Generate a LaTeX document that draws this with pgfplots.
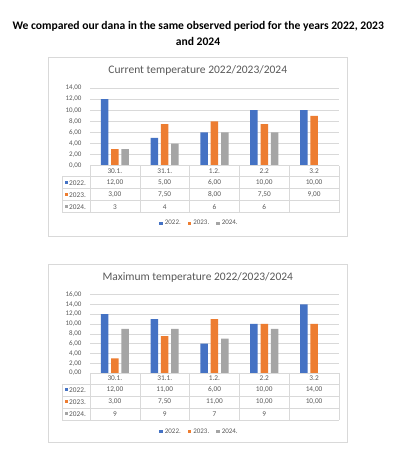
\documentclass[border=0pt]{standalone}
\usepackage{pgfplots}
\pgfplotsset{compat=1.18}
\usepackage{pgfplotstable}
\usepackage{fontspec}
\setmainfont{Carlito}

\definecolor{exblue}{HTML}{4472C4}
\definecolor{exorange}{HTML}{ED7D31}
\definecolor{exgray}{HTML}{A5A5A5}
\definecolor{txt}{HTML}{595959}
\definecolor{gridc}{HTML}{D9D9D9}

\pgfplotstableread{
x a b c
0 12 3 3
1 5 7.5 4
2 6 8 6
3 10 7.5 6
4 10 9 nan
}\curtab

\pgfplotstableread{
x a b c
0 12 3 9
1 11 7.5 9
2 6 11 7
3 10 10 9
4 14 10 nan
}\maxtab

\pgfplotsset{exstyle/.style={
  anchor=south west, scale only axis, width=249pt,
  xmin=-0.5, xmax=4.5, ymin=0,
  ybar=2.8pt, bar width=7.5pt,
  xtick=\empty, ytick distance=2,
  ymajorgrids, grid style={gridc, line width=0.5pt},
  axis line style={draw=none}, major tick length=0pt,
  unbounded coords=discard,
  yticklabel style={font=\fontsize{7}{8}\selectfont, text=txt, anchor=east, xshift=-5pt,
    /pgf/number format/.cd, fixed, fixed zerofill, precision=2, use comma, assume math mode=true},
  legend style={draw=none, fill=none, legend columns=3, font=\fontsize{7}{8}\selectfont, text=txt,
    anchor=center, /tikz/every even column/.append style={column sep=5pt}},
  legend image code/.code={\fill[##1] (0pt,-1.75pt) rectangle (3.5pt,1.75pt);},
  clip=false,
}}

\newcommand{\datatable}[3]{% #1 row 2022, #2 row 2023, #3 row 2024
  \begin{scope}[line width=0.5pt]
    \foreach \yy in {-11,-23,-35,-47} \draw[gridc] (62.3,\yy) -- (339,\yy);
    \draw[gridc] (90,0) -- (339,0);
    \foreach \xx in {90,139.8,189.6,239.4,289.2,339} \draw[gridc] (\xx,0) -- (\xx,-47);
    \draw[gridc] (62.3,-11) -- (62.3,-47);
    \foreach \lab [count=\i from 0] in {30.1.,31.1.,1.2.,2.2,3.2}
      \node[font=\fontsize{7.3}{8}\selectfont, text=txt] at (114.9+49.8*\i,-5.5) {\lab};
    \foreach \v [count=\i from 0] in {#1}
      \node[font=\fontsize{7.3}{8}\selectfont, text=txt] at (114.9+49.8*\i,-17) {\v};
    \foreach \v [count=\i from 0] in {#2}
      \node[font=\fontsize{7.3}{8}\selectfont, text=txt] at (114.9+49.8*\i,-29) {\v};
    \foreach \v [count=\i from 0] in {#3}
      \node[font=\fontsize{7.3}{8}\selectfont, text=txt] at (114.9+49.8*\i,-41) {\v};
    \fill[exblue] (64.8,-18.5) rectangle (67.8,-15.5);
    \fill[exorange] (64.8,-30.5) rectangle (67.8,-27.5);
    \fill[exgray] (64.8,-42.5) rectangle (67.8,-39.5);
    \node[font=\fontsize{7.3}{8}\selectfont, text=txt, anchor=west, inner sep=0pt] at (69,-17) {2022.};
    \node[font=\fontsize{7.3}{8}\selectfont, text=txt, anchor=west, inner sep=0pt] at (69,-29) {2023.};
    \node[font=\fontsize{7.3}{8}\selectfont, text=txt, anchor=west, inner sep=0pt] at (69,-41) {2024.};
  \end{scope}
}

\begin{document}
\begin{tikzpicture}[x=1pt,y=1pt]
\fill[white] (0,0) rectangle (395,459);
\path[use as bounding box] (0,0) rectangle (395,459);

\node[font=\fontsize{11.6}{13}\selectfont\bfseries] at (198.3,432.3) {We compared our dana in the same observed period for the years 2022, 2023};
\node[font=\fontsize{11.6}{13}\selectfont\bfseries] at (198,417.3) {and 2024};

% ---- chart 1 ----
\draw[gridc, line width=0.6pt] (48.3,222.3) rectangle (347.3,401.7);
\node[font=\fontsize{11.5}{13}\selectfont, text=txt] at (197.8,389) {Current temperature 2022/2023/2024};
\begin{axis}[exstyle, at={(90pt,293.3pt)}, height=77.7pt, ymax=14,
  legend style={at={(axis description cs:0.44,-0.741)}}]
\addplot[fill=exblue, draw=none] table[x=x,y=a]{\curtab};
\addplot[fill=exorange, draw=none] table[x=x,y=b]{\curtab};
\addplot[fill=exgray, draw=none] table[x=x,y=c]{\curtab};
\legend{2022.,2023.,2024.}
\end{axis}
\begin{scope}[shift={(0pt,293.3pt)}]
\datatable{{12,00},{5,00},{6,00},{10,00},{10,00}}{{3,00},{7,50},{8,00},{7,50},{9,00}}{3,4,6,6}
\end{scope}

% ---- chart 2 ----
\draw[gridc, line width=0.6pt] (48.3,16.3) rectangle (347.3,194.7);
\node[font=\fontsize{11.5}{13}\selectfont, text=txt] at (197.8,181.3) {Maximum temperature 2022/2023/2024};
\begin{axis}[exstyle, at={(90pt,86pt)}, height=78.5pt, ymax=16,
  legend style={at={(axis description cs:0.44,-0.748)}}]
\addplot[fill=exblue, draw=none] table[x=x,y=a]{\maxtab};
\addplot[fill=exorange, draw=none] table[x=x,y=b]{\maxtab};
\addplot[fill=exgray, draw=none] table[x=x,y=c]{\maxtab};
\legend{2022.,2023.,2024.}
\end{axis}
\begin{scope}[shift={(0pt,86pt)}]
\datatable{{12,00},{11,00},{6,00},{10,00},{14,00}}{{3,00},{7,50},{11,00},{10,00},{10,00}}{9,9,7,9}
\end{scope}
\end{tikzpicture}
\end{document}
